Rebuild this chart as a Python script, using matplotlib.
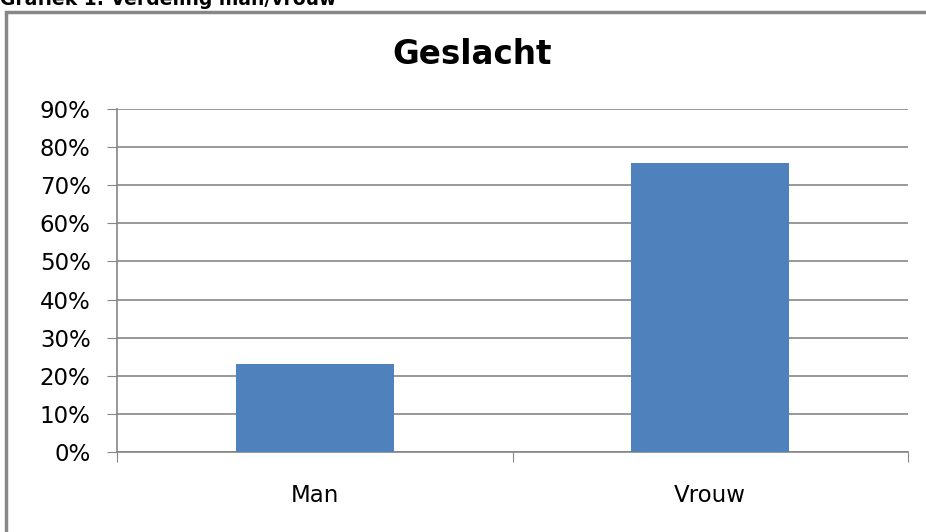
import matplotlib.pyplot as plt
from matplotlib.patches import Rectangle
from matplotlib.ticker import FixedLocator, FuncFormatter

# Gegevens
categorieen = ['Man', 'Vrouw']
percentages = [23.1, 75.9]
y_ticks = [0, 10, 20, 30, 40, 50, 60, 70, 80, 90]

W, H = 926, 532
fig = plt.figure(figsize=(W / 100, H / 100), dpi=100)
plt.rcParams['font.family'] = ['DejaVu Sans']

# Kop boven de grafiek (deels afgesneden, zoals in het origineel)
fig.text(0.0, 1 - 5 / H, 'Grafiek 1: Verdeling man/vrouw', fontsize=13.5,
         fontweight='bold', va='baseline', ha='left')

# Grijze kader rond de grafiek
fig.patches.append(Rectangle((6 / W, -0.05), 1.05, 1 - 12 / H + 0.05,
                             transform=fig.transFigure, fill=False,
                             edgecolor='#878787', linewidth=2.5))

ax = fig.add_axes([117 / W, 1 - 452 / H, (908 - 117) / W, (452 - 109) / H])

x = list(range(len(categorieen)))
ax.bar(x, percentages, width=0.4, color='#4F81BD', zorder=3)

ax.set_xlim(-0.5, len(categorieen) - 0.5)
ax.set_ylim(0, 90)

ax.yaxis.set_major_locator(FixedLocator(y_ticks))
ax.yaxis.set_major_formatter(FuncFormatter(lambda v, p: f'{v:.0f}%'))
ax.grid(axis='y', color='#868686', linewidth=1.2, zorder=0)

ax.xaxis.set_major_locator(FixedLocator([-0.5, 0.5, 1.5]))
ax.xaxis.set_major_formatter(FuncFormatter(lambda v, p: ''))
ax.xaxis.set_minor_locator(FixedLocator(x))
ax.set_xticklabels(categorieen, minor=True)
ax.tick_params(axis='x', which='minor', length=0, pad=23, labelsize=16.5)
ax.tick_params(axis='x', which='major', length=7, color='#868686', direction='out')
ax.tick_params(axis='y', length=7, color='#868686', direction='out',
               labelsize=16.5, pad=12)

for s in ['top', 'right']:
    ax.spines[s].set_visible(False)
for s in ['left', 'bottom']:
    ax.spines[s].set_color('#868686')
    ax.spines[s].set_linewidth(1.2)

fig.text(472 / W, 1 - 55 / H, 'Geslacht', fontsize=23.5, fontweight='bold',
         ha='center', va='center')

fig.savefig('out.png', dpi=100)
